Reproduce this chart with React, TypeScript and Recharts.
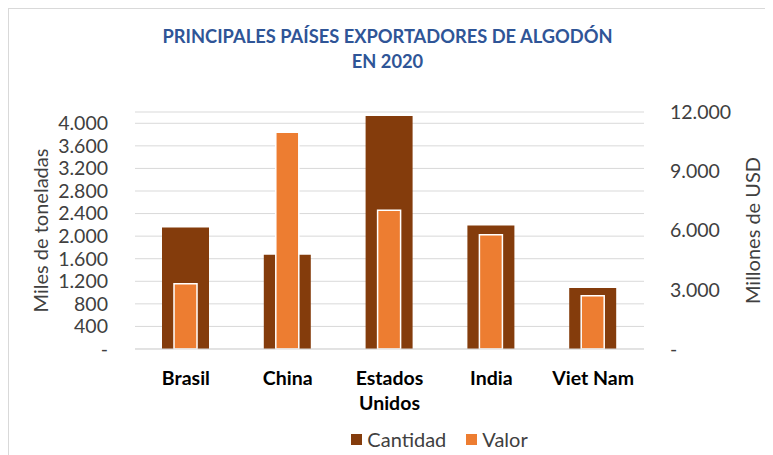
import { BarChart, Bar, XAxis, YAxis, CartesianGrid, Legend } from 'recharts';

const paises = ['Brasil', 'China', 'Estados Unidos', 'India', 'Viet Nam'];
const cantidad = [2155, 1670, 4130, 2190, 1080];
const valor = [3300, 10970, 7020, 5790, 2700];
const ticksToneladas = [0, 400, 800, 1200, 1600, 2000, 2400, 2800, 3200, 3600, 4000];
const ticksUsd = [0, 3000, 6000, 9000, 12000];

const data = paises.map((pais, i) => ({ pais, cantidad: cantidad[i], valor: valor[i] }));

const FONT = 'Lato, "Open Sans", sans-serif';
const BROWN = '#843C0C';
const ORANGE = '#ED7D31';
const TEXT = '#404040';

const fmt = (v: number) => (v === 0 ? '-' : String(v).replace(/\B(?=(\d{3})+(?!\d))/g, '.'));

const CategoryTick = (props: any) => {
    const { x, y, payload } = props;
    const words: string[] = payload.value === 'Estados Unidos' ? ['Estados', 'Unidos'] : [payload.value];
    return (
        <text x={x} y={y} textAnchor="middle" fill="#000" fontFamily={FONT} fontWeight={700} fontSize={19.5}>
            {words.map((w, i) => (
                <tspan key={w} x={x} dy={i === 0 ? 28 : 25}>{w}</tspan>
            ))}
        </text>
    );
};

// rotated axis titles, placed from the axis viewBox
const axisTitle = (text: string, cx: number) => (props: any) => {
    const vb = props.viewBox;
    const cy = vb.y + vb.height / 2;
    return (
        <text
            x={cx}
            y={cy}
            transform={`rotate(-90 ${cx} ${cy})`}
            textAnchor="middle"
            dominantBaseline="central"
            fill={TEXT}
            fontFamily={FONT}
            fontSize={20}
        >
            {text}
        </text>
    );
};

const renderLegend = () => (
    <div style={{ display: 'flex', justifyContent: 'center', alignItems: 'center', fontFamily: FONT, fontSize: 20, color: TEXT, paddingLeft: 104, marginTop: -3 }}>
        <span style={{ width: 11, height: 11, background: BROWN, display: 'inline-block', marginRight: 5 }}></span>
        <span style={{ marginRight: 20 }}>Cantidad</span>
        <span style={{ width: 11, height: 11, background: ORANGE, display: 'inline-block', marginRight: 5 }}></span>
        <span>Valor</span>
    </div>
);

export default function App() {
    return (
        <div style={{ position: 'relative', width: 757, height: 446, border: '1px solid #D9D9D9', background: '#fff' }}>
            <div
                style={{
                    position: 'absolute',
                    top: 15,
                    left: 0,
                    width: 757,
                    textAlign: 'center',
                    fontFamily: FONT,
                    fontWeight: 700,
                    fontSize: 18.3,
                    lineHeight: '25px',
                    color: '#2F5597',
                }}
            >
                PRINCIPALES PAÍSES EXPORTADORES DE ALGODÓN
                <br />
                EN 2020
            </div>
            <BarChart width={757} height={446} data={data} margin={{ top: 103, right: 0, bottom: 5, left: 0 }}>
                <CartesianGrid vertical={false} stroke="#D9D9D9" yAxisId="left" xAxisId="a" />
                <XAxis
                    xAxisId="a"
                    dataKey="pais"
                    height={81}
                    tickLine={false}
                    axisLine={{ stroke: '#D9D9D9' }}
                    tick={<CategoryTick />}
                    interval={0}
                />
                <XAxis xAxisId="b" dataKey="pais" hide />
                <YAxis
                    yAxisId="left"
                    domain={[0, 4200]}
                    ticks={ticksToneladas}
                    interval={0}
                    tickFormatter={fmt}
                    width={126}
                    axisLine={false}
                    tickLine={false}
                    tickSize={0}
                    tickMargin={27}
                    tick={{ fill: TEXT, fontSize: 19.5, fontFamily: FONT }}
                    label={axisTitle('Miles de toneladas', 31)}
                />
                <YAxis
                    yAxisId="right"
                    orientation="right"
                    domain={[0, 12000]}
                    ticks={ticksUsd}
                    interval={0}
                    tickFormatter={fmt}
                    width={122}
                    axisLine={false}
                    tickLine={false}
                    tickSize={0}
                    tickMargin={26}
                    tick={{ fill: TEXT, fontSize: 19.5, fontFamily: FONT, textAnchor: 'start' }}
                    label={axisTitle('Millones de USD', 743)}
                />
                <Legend verticalAlign="bottom" height={20} content={renderLegend} />
                <Bar
                    name="Cantidad"
                    dataKey="cantidad"
                    xAxisId="a"
                    yAxisId="left"
                    fill={BROWN}
                    barSize={47}
                    isAnimationActive={false}
                />
                <Bar
                    name="Valor"
                    dataKey="valor"
                    xAxisId="b"
                    yAxisId="right"
                    fill={ORANGE}
                    stroke="#fff"
                    strokeWidth={1.5}
                    barSize={23}
                    isAnimationActive={false}
                />
            </BarChart>
        </div>
    );
}
